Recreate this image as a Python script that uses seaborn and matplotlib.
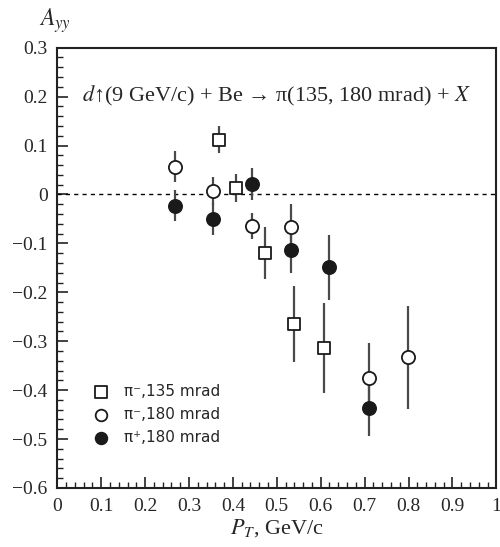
import pandas as pd
import seaborn as sns
import matplotlib.pyplot as plt
from matplotlib.ticker import MultipleLocator

# pi-, 135 mrad
pt_m135 = [0.368, 0.406, 0.474, 0.540, 0.608]
a_m135 = [0.112, 0.013, -0.119, -0.265, -0.313]
e_m135 = [0.027, 0.028, 0.053, 0.077, 0.092]
# pi-, 180 mrad
pt_m180 = [0.267, 0.354, 0.444, 0.533, 0.709, 0.798]
a_m180 = [0.057, 0.007, -0.064, -0.067, -0.376, -0.333]
e_m180 = [0.031, 0.029, 0.027, 0.048, 0.072, 0.105]
# pi+, 180 mrad
pt_p180 = [0.267, 0.354, 0.444, 0.533, 0.618, 0.709]
a_p180 = [-0.023, -0.050, 0.021, -0.113, -0.149, -0.437]
e_p180 = [0.032, 0.033, 0.033, 0.048, 0.066, 0.056]

labels = ["π⁻,135 mrad", "π⁻,180 mrad", "π⁺,180 mrad"]
xticks = [0, 0.1, 0.2, 0.3, 0.4, 0.5, 0.6, 0.7, 0.8, 0.9, 1.0]
xticklabels = ['0', '0.1', '0.2', '0.3', '0.4', '0.5', '0.6', '0.7', '0.8', '0.9', '1']
yticks = [-0.6, -0.5, -0.4, -0.3, -0.2, -0.1, 0, 0.1, 0.2, 0.3]
yticklabels = ['−0.6', '−0.5', '−0.4', '−0.3', '−0.2', '−0.1', '0', '0.1', '0.2', '0.3']

sns.set_style("white")
plt.rcParams['font.family'] = ['Liberation Serif', 'DejaVu Serif']
plt.rcParams['mathtext.fontset'] = 'stix'

fig = plt.figure(figsize=(5, 5.47), dpi=100)
ax = fig.add_axes([0.1146, 0.1079, 0.878, 0.8049])

series = [
    (pt_m135, a_m135, e_m135, 's', 'white', labels[0]),
    (pt_m180, a_m180, e_m180, 'o', 'white', labels[1]),
    (pt_p180, a_p180, e_p180, 'o', '#1a1a1a', labels[2]),
]

ax.axhline(0, color='black', lw=1, ls=(0, (3, 3)), zorder=1)

for x, y, e, m, fc, lab in series:
    ax.errorbar(x, y, yerr=e, fmt='none', ecolor='#4a4a4a', elinewidth=1.6,
                capsize=0, zorder=2)
for x, y, e, m, fc, lab in series:
    df = pd.DataFrame({'pt': x, 'a': y})
    sns.scatterplot(data=df, x='pt', y='a', marker=m, s=80 if m == 's' else 90,
                    facecolor=fc, edgecolor='#1a1a1a', linewidth=1.3,
                    label=lab, ax=ax, zorder=3)

ax.set_xlim(0, 1)
ax.set_ylim(-0.6, 0.3)
ax.set_xticks(xticks)
ax.set_xticklabels(xticklabels)
ax.set_yticks(yticks)
ax.set_yticklabels(yticklabels)
ax.xaxis.set_minor_locator(MultipleLocator(0.02))
ax.yaxis.set_minor_locator(MultipleLocator(0.02))
ax.tick_params(which='major', direction='in', length=8, width=1.2, labelsize=14,
               bottom=True, left=True, top=False, right=False, pad=7,
               color='#222222')
ax.tick_params(which='minor', direction='in', length=4, width=1.0,
               bottom=True, left=True, top=False, right=False, color='#222222')
for s in ax.spines.values():
    s.set_linewidth(1.5)
    s.set_color('#222222')

ax.set_xlabel(r'$P_T$, GeV/c', fontsize=16, labelpad=2)
ax.set_ylabel('')
fig.text(0.078, 0.962, r'$A_{yy}$', fontsize=17, ha='left', va='center')

ax.text(0.5, 0.89, r'$d$↑(9 GeV/c) + Be → π(135, 180 mrad) + $X$',
        transform=ax.transAxes, ha='center', va='center', fontsize=16)

leg = ax.legend(loc='lower left', bbox_to_anchor=(0.05, 0.083), frameon=False,
                prop={'family': 'DejaVu Sans', 'size': 11}, handletextpad=0.5,
                labelspacing=0.55, borderaxespad=0)
for h in leg.legend_handles:
    h.set_sizes([70])

fig.savefig('out.png', dpi=100)
